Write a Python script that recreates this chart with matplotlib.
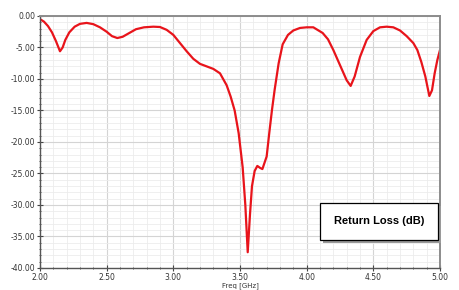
import matplotlib.pyplot as plt
from matplotlib.patches import Rectangle
from matplotlib.ticker import MultipleLocator, FormatStrFormatter

# return loss
freq = [2.00, 2.03, 2.06, 2.09, 2.12, 2.15, 2.17, 2.19, 2.22, 2.26,
        2.30, 2.35, 2.40, 2.45, 2.50, 2.54, 2.58, 2.62, 2.67, 2.72,
        2.78, 2.85, 2.90, 2.95, 3.00, 3.05, 3.10, 3.15, 3.20, 3.25,
        3.30, 3.35, 3.40, 3.43, 3.46, 3.49, 3.52, 3.54, 3.558, 3.575,
        3.59, 3.61, 3.63, 3.65, 3.668, 3.70, 3.72, 3.74, 3.76, 3.79,
        3.82, 3.86, 3.90, 3.95, 4.00, 4.05, 4.12, 4.16, 4.20, 4.25,
        4.30, 4.33, 4.36, 4.40, 4.45, 4.50, 4.55, 4.60, 4.65, 4.70,
        4.75, 4.80, 4.83, 4.86, 4.89, 4.92, 4.94, 4.96, 4.98, 5.00]
loss = [-0.5, -0.9, -1.6, -2.6, -4.0, -5.6, -5.0, -3.8, -2.6, -1.7,
        -1.25, -1.1, -1.3, -1.8, -2.5, -3.2, -3.5, -3.3, -2.7, -2.1,
        -1.8, -1.7, -1.75, -2.2, -3.0, -4.3, -5.6, -6.8, -7.6, -8.0,
        -8.4, -9.1, -11.0, -12.8, -15.0, -18.6, -24.0, -30.0, -37.5, -31.5,
        -27.0, -24.6, -23.8, -24.1, -24.3, -22.3, -18.5, -14.9, -11.7, -7.5,
        -4.5, -3.0, -2.3, -1.9, -1.8, -1.8, -2.7, -3.7, -5.4, -7.8,
        -10.2, -11.1, -9.6, -6.5, -3.8, -2.4, -1.8, -1.7, -1.8, -2.3,
        -3.2, -4.3, -5.4, -7.3, -9.6, -12.7, -11.8, -9.1, -7.0, -5.4]

fig = plt.figure(figsize=(4.59, 2.90), dpi=100)
ax = fig.add_axes([0.0871, 0.0759, 0.8715, 0.869])

ax.plot(freq, loss, color='#e8141b', linewidth=1.6, solid_joinstyle='round')

ax.set_xlim(2.0, 5.0)
ax.set_ylim(-40, 0)
ax.xaxis.set_major_locator(MultipleLocator(0.5))
ax.xaxis.set_minor_locator(MultipleLocator(0.1))
ax.yaxis.set_major_locator(MultipleLocator(5))
ax.yaxis.set_minor_locator(MultipleLocator(1))
ax.xaxis.set_major_formatter(FormatStrFormatter('%.2f'))
ax.yaxis.set_major_formatter(FormatStrFormatter('%.2f'))

ax.grid(which='major', color='#d4d4d4', linewidth=0.8)
ax.grid(which='minor', color='#ececec', linewidth=0.6)
ax.set_axisbelow(True)

ax.tick_params(which='both', direction='inout', colors='#444444', labelcolor='#333333',
               labelsize=5.5, pad=1.5)
ax.tick_params(which='major', length=4, width=0.8)
ax.tick_params(which='minor', length=2, width=0.6)

for side in ['top', 'right']:
    ax.spines[side].set_color('#8c8c8c')
    ax.spines[side].set_linewidth(1.4)
for side in ['left', 'bottom']:
    ax.spines[side].set_color('#555555')
    ax.spines[side].set_linewidth(1.0)

ax.set_xlabel('Freq [GHz]', fontsize=5, color='#333333', labelpad=0)

# label box with drop shadow
ax.add_patch(Rectangle((0.708, 0.100), 0.295, 0.147, transform=ax.transAxes,
                       facecolor='#9a9a9a', edgecolor='none', zorder=4, clip_on=False))
ax.add_patch(Rectangle((0.70, 0.111), 0.295, 0.147, transform=ax.transAxes,
                       facecolor='white', edgecolor='black', linewidth=0.9, zorder=5))
ax.text(0.8475, 0.1845, 'Return Loss (dB)', transform=ax.transAxes, ha='center', va='center',
        fontsize=8, fontweight='bold', family='Liberation Sans', zorder=6)

fig.savefig('out.png', dpi=100)
